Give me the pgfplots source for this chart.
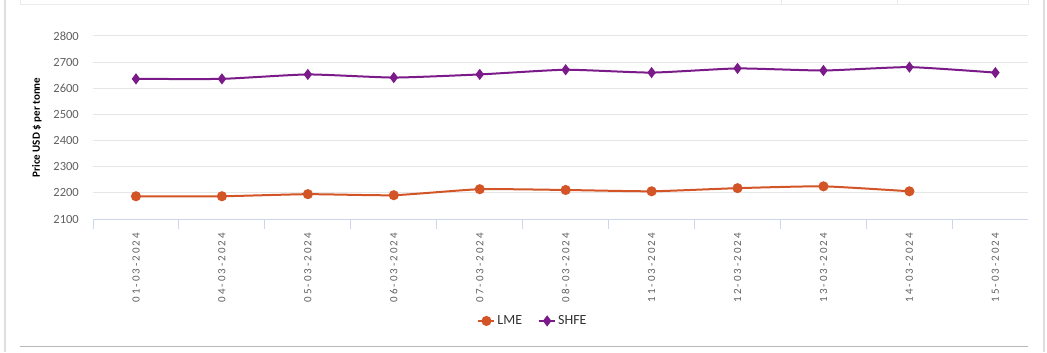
\documentclass[border=0pt]{standalone}
\usepackage{pgfplots}
\pgfplotsset{compat=1.18}
\usepackage{fontspec}
\setmainfont{Carlito}
\definecolor{lme}{RGB}{211,84,39}
\definecolor{shfe}{RGB}{123,26,137}
\definecolor{gridc}{RGB}{230,230,230}
\definecolor{axc}{RGB}{204,214,235}
\definecolor{lab}{RGB}{96,96,96}
\definecolor{framec}{RGB}{222,222,222}
\definecolor{legtxt}{RGB}{51,51,51}
\begin{document}
\begin{tikzpicture}[x=1bp,y=1bp]
\useasboundingbox (0,0) rectangle (1047,352);
% page decorations
\draw[framec, line width=1.2bp] (5,0) -- (5,352);
\draw[framec, line width=1.2bp] (1044,0) -- (1044,352);
\draw[gridc!80, line width=1bp] (20,347) -- (1028,347);
\foreach \xx in {20,781,897,1028} \draw[gridc!80, line width=1bp] (\xx,352) -- (\xx,347);
\draw[black!28, line width=1bp] (20,6) -- (1028,6);
\begin{axis}[
  at={(93bp,133bp)}, anchor=south west,
  scale only axis, width=935bp, height=183bp,
  xmin=-0.5, xmax=10.38,
  ymin=2100, ymax=2800,
  ytick={2100,2200,...,2800},
  xtick={0,...,10},
  xticklabels={01-03-2024,04-03-2024,05-03-2024,06-03-2024,07-03-2024,08-03-2024,11-03-2024,12-03-2024,13-03-2024,14-03-2024,15-03-2024},
  axis line style={draw=none},
  xtick pos=bottom, ytick pos=left,
  ymajorgrids, grid style={gridc, line width=1bp},
  y tick style={draw=none}, x tick style={draw=none},
  major tick length=0pt,
  extra x ticks={-0.5,0.5,...,9.5},
  extra x tick labels={},
  extra x tick style={x tick style={draw=axc, line width=1bp}, major tick length=10bp, tick align=outside, grid=none},
  /pgf/number format/assume math mode=true,
  /pgf/number format/1000 sep={},
  yticklabel style={font=\fontsize{12.5bp}{14bp}\selectfont, text=lab, anchor=east, inner sep=0pt, xshift=-14bp},
  xticklabel style={font=\addfontfeatures{LetterSpace=18}\fontsize{11bp}{13bp}\selectfont, text=lab, yshift=-14bp, rotate=90, anchor=east, inner sep=0pt},
  ylabel={Price USD \$ per tonne},
  ylabel style={font=\bfseries\fontsize{11bp}{12bp}\selectfont, black, at={(axis description cs:-0.06,0.5)}, anchor=center},
  legend style={at={(axis description cs:0.4706,-0.557)}, anchor=center, draw=none, fill=none,
    font=\fontsize{14bp}{16bp}\selectfont, text=legtxt, legend columns=2,
    /tikz/every even column/.append style={column sep=14bp}},
  legend image code/.code={\draw[#1, mark repeat=2, mark phase=2] plot coordinates {(0bp,0bp) (8bp,0bp) (16bp,0bp)};},
  clip=false,
  after end axis/.code={\draw[axc, line width=1bp] (rel axis cs:0,0) -- (rel axis cs:1,0);},
]
\addplot[color=lme, line width=2bp, smooth, tension=0.3, mark=*, mark size=4bp, mark options={fill=lme, draw=lme}]
coordinates {(0,2187) (1,2187) (2,2195) (3,2191) (4,2214) (5,2211) (6,2206) (7,2218) (8,2225) (9,2206)};
\addlegendentry{LME}
\addplot[color=shfe, line width=2bp, smooth, tension=0.3, mark=diamond*, mark size=4bp, mark options={fill=shfe, draw=shfe}]
coordinates {(0,2636) (1,2636) (2,2653) (3,2641) (4,2653) (5,2671) (6,2660) (7,2676) (8,2668) (9,2681) (10,2660)};
\addlegendentry{SHFE}
\end{axis}
\end{tikzpicture}
\end{document}
